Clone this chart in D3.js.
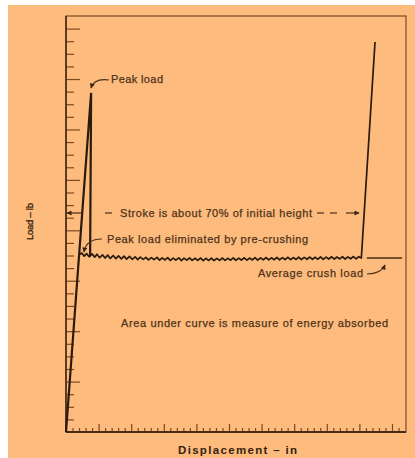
<!DOCTYPE html>
<html>
<head>
<meta charset="utf-8">
<script src="https://cdn.jsdelivr.net/npm/d3@7"></script>
<style>
  html, body { margin: 0; padding: 0; background: #fff; }
  svg { display: block; }
  text { font-family: "Liberation Sans", Arial, sans-serif; }
</style>
</head>
<body>
<div id="chart"></div>
<script>
// axis ticks
const loadTicks = d3.range(1, 33);
const loadMajor = [4, 8, 12, 16, 20, 24, 28, 32];
const dispMajor = [1, 2, 3, 4, 5, 6, 7, 8, 9, 10];
const dispMinor = d3.range(1, 52).map(i => i / 5).filter(v => Math.abs(v - Math.round(v)) > 0.01);

// loading + peak (not pre-crushed)
const peakDisp = [0, 0.77, 0.74];
const peakLoad = [0, 26.9, 13.95];

// crush plateau (pre-crushed) then bottoming out
const crushDisp = [0.40,0.48,0.56,0.63,0.71,0.80,0.88,0.95,1.03,1.12,1.20,1.28,1.36,1.45,1.53,1.61,1.70,1.78,1.86,1.95,
  2.03,2.12,2.20,2.28,2.37,2.45,2.53,2.62,2.70,2.79,2.87,2.95,3.04,3.12,3.20,3.29,3.37,3.46,3.54,3.62,
  3.71,3.79,3.87,3.96,4.04,4.13,4.21,4.29,4.38,4.46,4.54,4.63,4.71,4.80,4.88,4.96,5.05,5.13,5.21,5.30,
  5.38,5.47,5.55,5.63,5.72,5.80,5.88,5.97,6.05,6.14,6.22,6.30,6.39,6.47,6.55,6.64,6.72,6.81,6.89,6.97,
  7.06,7.14,7.22,7.31,7.39,7.48,7.56,7.64,7.73,7.81,7.89,7.98,8.06,8.15,8.23,8.31,8.40,8.48,8.56,8.65,
  8.73,8.82,8.90,8.98,9.06,9.48];
const crushLoad = [14.05,14.20,13.95,14.15,13.90,14.13,13.87,14.10,13.83,14.05,13.80,14.03,13.77,14.00,13.75,13.97,13.73,13.95,13.71,13.93,
  13.70,13.90,13.67,13.87,13.69,13.85,13.65,13.83,13.67,13.85,13.63,13.81,13.65,13.83,13.61,13.80,13.63,13.82,13.60,13.79,
  13.63,13.81,13.61,13.78,13.62,13.80,13.59,13.77,13.61,13.79,13.60,13.77,13.62,13.80,13.61,13.78,13.63,13.81,13.62,13.79,
  13.64,13.82,13.63,13.80,13.65,13.83,13.64,13.81,13.66,13.84,13.65,13.82,13.67,13.85,13.66,13.83,13.68,13.86,13.67,13.84,
  13.69,13.87,13.68,13.85,13.70,13.88,13.69,13.86,13.71,13.89,13.70,13.87,13.72,13.90,13.71,13.88,13.73,13.91,13.72,13.89,
  13.74,13.92,13.73,13.91,13.80,30.94];

// average crush load marker
const avgDisp = [9.23, 10.31];
const avgLoad = 13.8;

const W = 415, H = 458;
const bg = '#fdbb7d';
const frameCol = '#7a4a22';
const inkCol = '#2b1a0e';
const textCol = '#4f321a';

const svg = d3.select('#chart').append('svg')
  .attr('width', W)
  .attr('height', H);

svg.append('rect').attr('x', 8).attr('y', 5).attr('width', W - 8).attr('height', H - 5).attr('fill', bg);

const x = d3.scaleLinear().domain([0, 10.43]).range([66, 406]);
const y = d3.scaleLinear().domain([0, 33]).range([432, 16]);

// frame
svg.append('rect')
  .attr('x', 66).attr('y', 16).attr('width', 340).attr('height', 416)
  .attr('fill', 'none').attr('stroke', frameCol).attr('stroke-width', 1.2);

// y ticks (inward)
const yMinorAxis = d3.axisLeft(y).tickValues(loadTicks.filter(v => !loadMajor.includes(v))).tickSize(-8).tickFormat('');
const yMajorAxis = d3.axisLeft(y).tickValues(loadMajor).tickSize(-14).tickFormat('');
[yMinorAxis, yMajorAxis].forEach(ax => {
  const g = svg.append('g').attr('transform', 'translate(66,0)').call(ax);
  g.select('.domain').remove();
  g.selectAll('line').attr('stroke', frameCol).attr('stroke-width', 1.2);
});

// x ticks (inward)
const xMinorAxis = d3.axisBottom(x).tickValues(dispMinor).tickSize(-4).tickFormat('');
const xMajorAxis = d3.axisBottom(x).tickValues(dispMajor).tickSize(-8).tickFormat('');
[xMinorAxis, xMajorAxis].forEach(ax => {
  const g = svg.append('g').attr('transform', 'translate(0,432)').call(ax);
  g.select('.domain').remove();
  g.selectAll('line').attr('stroke', frameCol).attr('stroke-width', 1.2);
});

// darker left and bottom axis lines
svg.append('line').attr('x1', 66).attr('x2', 66).attr('y1', 16).attr('y2', 432)
  .attr('stroke', '#4a2c14').attr('stroke-width', 1.6);
svg.append('line').attr('x1', 66).attr('x2', 406).attr('y1', 432).attr('y2', 432)
  .attr('stroke', '#4a2c14').attr('stroke-width', 1.8);

const line = d3.line().x(d => x(d[0])).y(d => y(d[1]));

svg.append('path')
  .datum(peakDisp.map((d, i) => [d, peakLoad[i]]))
  .attr('d', line)
  .attr('fill', 'none').attr('stroke', inkCol).attr('stroke-width', 2.2).attr('stroke-linejoin', 'miter');

svg.append('path')
  .datum(crushDisp.map((d, i) => [d, crushLoad[i]]))
  .attr('d', line)
  .attr('fill', 'none').attr('stroke', inkCol).attr('stroke-width', 1.7).attr('stroke-linejoin', 'round');

svg.append('line')
  .attr('x1', x(avgDisp[0])).attr('x2', x(avgDisp[1]))
  .attr('y1', y(avgLoad)).attr('y2', y(avgLoad))
  .attr('stroke', '#4a2c14').attr('stroke-width', 1.6);

// arrow heads
const defs = svg.append('defs');
defs.append('marker')
  .attr('id', 'head')
  .attr('viewBox', '0 0 10 10')
  .attr('refX', 9).attr('refY', 5)
  .attr('markerWidth', 6).attr('markerHeight', 5)
  .attr('markerUnits', 'userSpaceOnUse')
  .attr('orient', 'auto')
  .append('path').attr('d', 'M0,0L10,5L0,10Z').attr('fill', '#3a2412');

const annStroke = '#4a2e16';
function arrow(d) {
  svg.append('path').attr('d', d).attr('fill', 'none')
    .attr('stroke', annStroke).attr('stroke-width', 1.2)
    .attr('marker-end', 'url(#head)');
}

arrow('M109,80 Q94,78 91,88');
arrow('M102,239 Q86,239 84,252');
arrow('M367,274 Q381,274 385,265');

// stroke dimension line
[[105, 112], [317, 324], [330, 337]].forEach(s => {
  svg.append('line').attr('x1', s[0]).attr('x2', s[1]).attr('y1', 213).attr('y2', 213)
    .attr('stroke', annStroke).attr('stroke-width', 1.2);
});
arrow('M82,213 L67,213');
arrow('M346,213 L359,213');

// labels
function label(txt, xPos, yPos, len, opts = {}) {
  const t = svg.append('text')
    .attr('x', xPos).attr('y', yPos)
    .attr('fill', opts.fill || textCol)
    .attr('stroke', opts.fill || textCol)
    .attr('stroke-width', opts.sw == null ? 0.25 : opts.sw)
    .style('font-size', (opts.size || 11) + 'px')
    .style('font-weight', opts.weight || 'normal')
    .attr('textLength', len)
    .attr('lengthAdjust', 'spacing')
    .text(txt);
  if (opts.rotate) t.attr('transform', `rotate(-90,${xPos},${yPos})`);
  return t;
}

label('Peak load', 111, 83, 52);
label('Stroke is about 70% of initial height', 120, 217, 192);
label('Peak load eliminated by pre-crushing', 107, 243, 201);
label('Average crush load', 258, 277, 105);
label('Area under curve is measure of energy absorbed', 121, 327, 267);
label('Displacement \u2013 in', 178, 454, 119, {weight: 'bold', fill: '#36220f', size: 11.5, sw: 0});
label('Load \u2013 lb', 33, 240, 37, {fill: '#36220f', size: 9.5, sw: 0.3, rotate: true});
</script>
</body>
</html>
